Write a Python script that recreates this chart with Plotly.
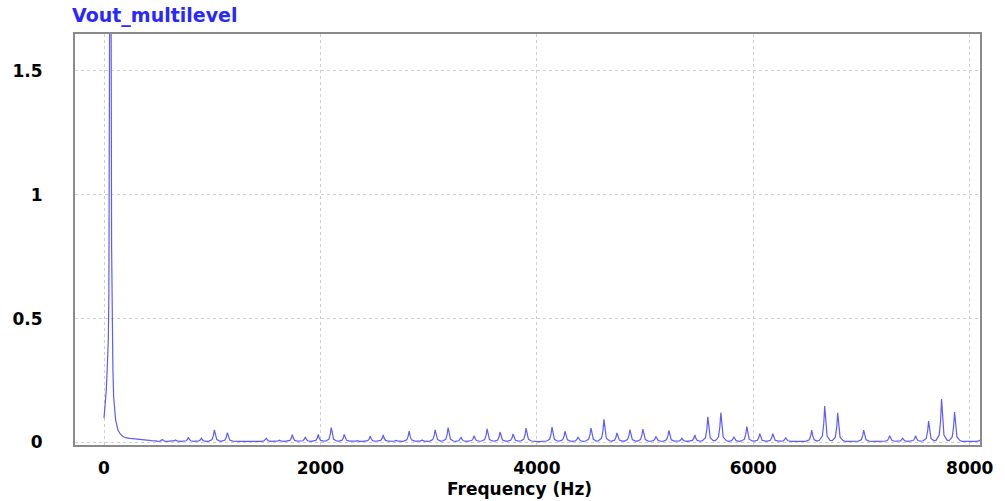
import plotly.graph_objects as go

# ---- data ----
# low-frequency part (fundamental at 60 Hz and its skirt)
lf_hz = [0, 10, 21, 30, 40, 45, 50, 60, 70, 76, 82, 89, 107, 128, 150, 174, 200, 240, 296, 340, 385, 440, 480]
lf_mag = [0.098, 0.14, 0.21, 0.30, 0.42, 0.6, 1.2, 3.0, 0.8, 0.45, 0.30, 0.185, 0.092, 0.051, 0.034, 0.024, 0.019, 0.016, 0.013, 0.010, 0.008, 0.007, 0.006]

# odd harmonics of 60 Hz (peak frequency, peak magnitude)
harm_hz = [540, 660, 780, 900, 1020, 1140, 1260, 1380, 1500, 1620, 1740, 1860,
           1980, 2100, 2220, 2340, 2460, 2580, 2700, 2820, 2940, 3060, 3180, 3300,
           3420, 3540, 3660, 3780, 3900, 4020, 4140, 4260, 4380, 4500, 4620, 4740,
           4860, 4980, 5100, 5220, 5340, 5460, 5580, 5700, 5820, 5940, 6060, 6180,
           6300, 6420, 6540, 6660, 6780, 6900, 7020, 7140, 7260, 7380, 7500, 7620,
           7740, 7860, 7980, 8100]
harm_mag = [0.012, 0.010, 0.021, 0.017, 0.051, 0.039, 0.004, 0.002, 0.017, 0.009, 0.031, 0.022,
            0.032, 0.060, 0.032, 0.007, 0.025, 0.030, 0.008, 0.046, 0.010, 0.051, 0.060, 0.020,
            0.027, 0.055, 0.042, 0.034, 0.058, 0.003, 0.062, 0.045, 0.022, 0.058, 0.093, 0.038,
            0.052, 0.054, 0.024, 0.048, 0.017, 0.030, 0.103, 0.120, 0.023, 0.064, 0.035, 0.035,
            0.020, 0.006, 0.050, 0.147, 0.119, 0.004, 0.050, 0.004, 0.027, 0.018, 0.027, 0.086,
            0.175, 0.123, 0.003, 0.010]
floor_mag = 0.004

x_ticks = [0, 2000, 4000, 6000, 8000]
y_ticks = [0, 0.5, 1, 1.5]
y_tick_text = ["0", "0.5", "1", "1.5"]

# ---- drawing style: narrow resonance profile used to draw each harmonic ----
prof_off = [-50, -22, -9, 0, 9, 22, 50]
prof_frac = [0.03, 0.15, 0.5, 1.0, 0.5, 0.15, 0.03]

xs = list(lf_hz)
ys = list(lf_mag)
for f, a in zip(harm_hz, harm_mag):
    for o, fr in zip(prof_off, prof_frac):
        xs.append(f + o)
        ys.append(floor_mag + fr * (a - floor_mag))

FONT = "DejaVu Sans"

fig = go.Figure()
fig.add_trace(go.Scatter(x=xs, y=ys, mode="lines",
                         line=dict(color="#5c5cff", width=1.2),
                         hoverinfo="skip", showlegend=False))

axis_common = dict(showline=True, mirror=True, linecolor="#8a8a8a", linewidth=2,
                   showgrid=True, gridcolor="#cfcfcf", griddash="dot", gridwidth=1,
                   zeroline=False, ticks="",
                   tickfont=dict(family=FONT, size=17, color="#000000", weight="bold"))

fig.update_layout(
    width=1005, height=501,
    margin=dict(l=72, r=20, t=34, b=56),
    paper_bgcolor="white", plot_bgcolor="white",
    title=dict(text="<b>Vout_multilevel</b>", x=72/1005, xref="container", xanchor="left",
               y=1 - 15/501, yref="container", yanchor="middle",
               font=dict(family=FONT, size=19, color="#2828ff")),
    xaxis=dict(range=[-268, 8095], tickvals=x_ticks, ticklabelstandoff=7, **axis_common),
    yaxis=dict(range=[-0.0105, 1.649], tickvals=y_ticks, ticktext=y_tick_text,
               ticklabelstandoff=27, **axis_common),
    annotations=[dict(text="<b>Frequency (Hz)</b>", xref="paper", yref="paper",
                      x=(520 - 72) / 913, y=(445.3 - 489.5) / 411.6,
                      xanchor="center", yanchor="middle", showarrow=False,
                      font=dict(family=FONT, size=17, color="#000000"))],
)

fig.write_html("out.html")
